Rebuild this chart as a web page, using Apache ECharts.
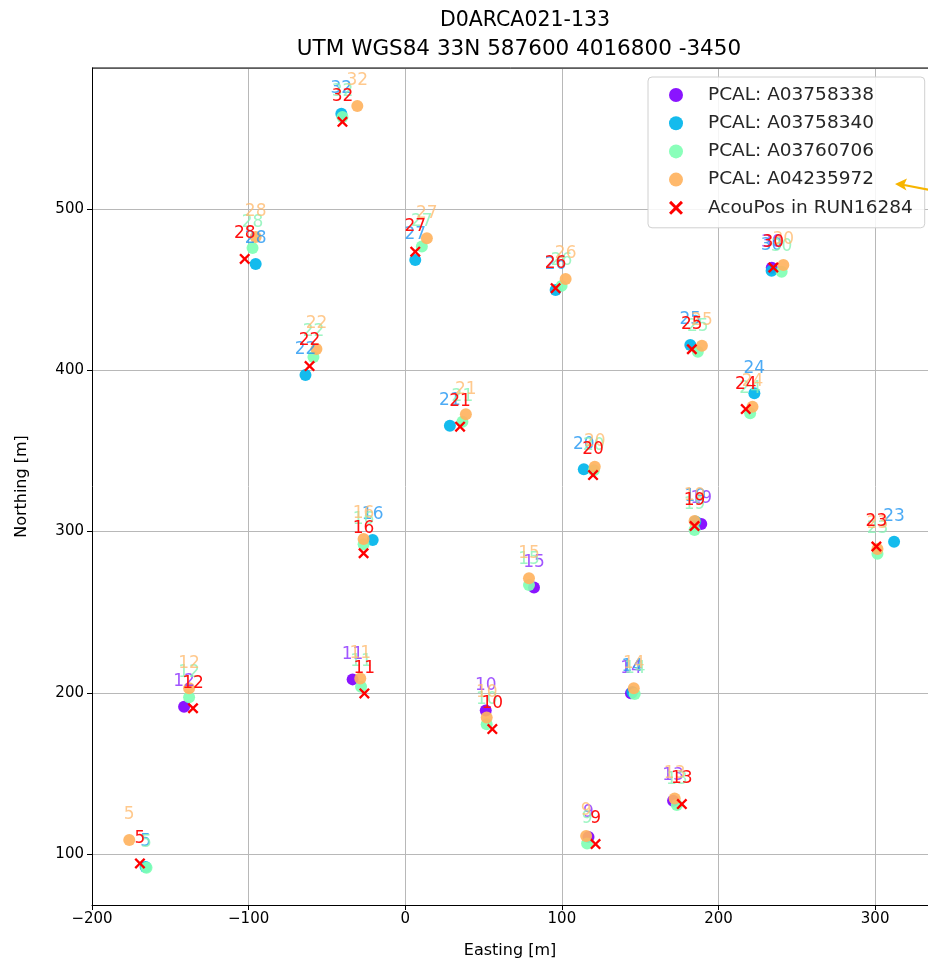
<!DOCTYPE html>
<html>
<head>
<meta charset="utf-8">
<script src="https://cdn.jsdelivr.net/npm/echarts@6/dist/echarts.min.js"></script>
<style>
html,body{margin:0;padding:0;background:#fff;}
#chart{width:928px;height:965px;}
</style>
</head>
<body>
<div id="chart"></div>
<script>
// ---- data: [easting, northing, DU label] ----
const pcalA03758338 = [
  [234.0, 463.5, '30'], [189.0, 304.7, '19'], [82.2, 265.2, '15'], [144.1, 199.7, '14'],
  [-141.2, 191.4, '12'], [-33.6, 208.3, '11'], [51.4, 189.0, '10'], [117.0, 110.5, '9'],
  [171.0, 133.0, '13']
];
const pcalA03758340 = [
  [-40.8, 559.0, '32'], [-95.5, 465.9, '28'], [6.4, 468.4, '27'], [96.0, 449.8, '26'],
  [233.9, 461.7, '30'], [-63.7, 397.1, '22'], [182.0, 415.7, '25'], [222.9, 385.7, '24'],
  [28.5, 365.6, '21'], [114.0, 338.6, '20'], [185.2, 306.2, '19'], [-20.8, 294.7, '16'],
  [312.1, 293.7, '23'], [145.0, 200.5, '14'], [-165.8, 92.0, '5']
];
const pcalA03760706 = [
  [-40.1, 557.0, '32'], [-97.5, 475.8, '28'], [10.6, 476.7, '27'], [99.8, 452.3, '26'],
  [240.3, 461.1, '30'], [-58.6, 408.2, '22'], [186.8, 411.5, '25'], [220.2, 373.3, '24'],
  [36.5, 368.1, '21'], [120.4, 338.0, '20'], [184.7, 300.9, '19'], [-26.6, 292.1, '16'],
  [301.5, 286.2, '23'], [79.0, 266.8, '15'], [146.5, 199.3, '14'], [-138.0, 197.2, '12'],
  [-28.2, 203.7, '11'], [52.0, 180.5, '10'], [116.1, 106.6, '9'], [173.4, 130.4, '13'],
  [-165.2, 91.5, '5']
];
const pcalA04235972 = [
  [-30.6, 563.9, '32'], [-95.5, 482.6, '28'], [13.8, 481.8, '27'], [102.4, 456.6, '26'],
  [241.4, 465.3, '30'], [-56.7, 413.2, '22'], [189.4, 415.2, '25'], [221.7, 377.4, '24'],
  [38.7, 372.7, '21'], [121.0, 340.2, '20'], [184.7, 306.5, '19'], [-26.6, 295.3, '16'],
  [301.5, 289.1, '23'], [79.0, 271.0, '15'], [145.9, 202.8, '14'], [-138.0, 202.8, '12'],
  [-28.7, 208.9, '11'], [52.0, 184.6, '10'], [115.5, 111.2, '9'], [172.0, 134.5, '13'],
  [-176.2, 108.7, '5']
];
const acouPosRUN16284 = [
  [-40.1, 554.0, '32'], [-102.5, 469.0, '28'], [6.4, 473.5, '27'], [96.0, 450.9, '26'],
  [235.0, 463.7, '30'], [-61.1, 402.6, '22'], [183.0, 413.0, '25'], [217.4, 375.9, '24'],
  [35.0, 365.0, '21'], [119.9, 335.0, '20'], [184.7, 303.4, '19'], [-26.6, 286.5, '16'],
  [300.8, 290.7, '23'], [-135.5, 190.4, '12'], [-26.1, 199.6, '11'], [55.6, 177.5, '10'],
  [121.5, 106.2, '9'], [176.6, 131.0, '13'], [-169.4, 94.2, '5']
];
const seriesNames = ['PCAL: A03758338', 'PCAL: A03758340', 'PCAL: A03760706', 'PCAL: A04235972', 'AcouPos in RUN16284'];
const titleLines = ['D0ARCA021-133', 'UTM WGS84 33N 587600 4016800 -3450'];
const xTicks = [-200, -100, 0, 100, 200, 300];
const yTicks = [100, 200, 300, 400, 500];

const FONT = 'DejaVu Sans';
const XMARK = 'path://M1.5,0 L5,3.5 L8.5,0 L10,1.5 L6.5,5 L10,8.5 L8.5,10 L5,6.5 L1.5,10 L0,8.5 L3.5,5 L0,1.5 Z';
const pointColors = ['#8000ff', '#00b5eb', '#80ffb4', '#ffb360', '#ff0000'];
const labelColors = ['#8a2cff', '#2196f3', '#86f2b4', '#ffbb70', '#ff1010'];

const datasets = [pcalA03758338, pcalA03758340, pcalA03760706, pcalA04235972, acouPosRUN16284];

function fmt(v) {
  if (xTicks.indexOf(v) < 0 && yTicks.indexOf(v) < 0) return '';
  return String(v).replace('-', '\u2212');
}

const series = datasets.map((d, i) => ({
  type: 'scatter',
  name: seriesNames[i],
  data: d.map(p => ({ value: [p[0], p[1]], name: p[2] })),
  symbol: i === 4 ? XMARK : 'circle',
  symbolSize: i === 4 ? 11 : 12,
  itemStyle: { color: pointColors[i], opacity: i === 4 ? 1 : 0.92 },
  label: {
    show: true,
    position: 'inside',
    offset: [0, -25],
    formatter: '{b}',
    fontFamily: FONT,
    fontSize: 17,
    color: labelColors[i],
    opacity: i === 4 ? 1 : 0.8
  },
  emphasis: { disabled: true },
  animation: false
}));

const chart = echarts.init(document.getElementById('chart'), null, { renderer: 'canvas' });
chart.setOption({
  backgroundColor: '#ffffff',
  animation: false,
  title: [
    { text: titleLines[0], left: 520, top: 5, textAlign: 'center',
      textStyle: { fontFamily: FONT, fontSize: 20.5, fontWeight: 'normal', color: '#000' } },
    { text: titleLines[1], left: 514, top: 33, textAlign: 'center',
      textStyle: { fontFamily: FONT, fontSize: 21.5, fontWeight: 'normal', color: '#000' } }
  ],
  grid: { left: 92, top: 68, width: 838, height: 837, show: false },
  xAxis: {
    type: 'value',
    min: -200,
    max: -200 + 838 / 1.57,
    interval: 100,
    name: 'Easting [m]',
    nameLocation: 'middle',
    nameGap: 38,
    nameTextStyle: { fontFamily: FONT, fontSize: 16, color: '#000' },
    axisLine: { show: true, onZero: false, lineStyle: { color: '#000', width: 1 } },
    axisTick: { show: true, length: 5, lineStyle: { color: '#000' } },
    axisLabel: { fontFamily: FONT, fontSize: 15, color: '#000', margin: 7, formatter: fmt, showMaxLabel: false },
    splitLine: { show: true, lineStyle: { color: '#b8b8b8', width: 1 } }
  },
  yAxis: [{
    type: 'value',
    min: 68.4,
    max: 587.4,
    splitNumber: 5,
    name: 'Northing [m]',
    nameLocation: 'middle',
    nameGap: 62,
    nameRotate: 90,
    nameTextStyle: { fontFamily: FONT, fontSize: 16, color: '#000' },
    axisLine: { show: true, onZero: false, lineStyle: { color: '#000', width: 1 } },
    axisTick: { show: true, length: 5, lineStyle: { color: '#000' } },
    axisLabel: { fontFamily: FONT, fontSize: 15, color: '#000', margin: 8, formatter: fmt, showMinLabel: false, showMaxLabel: false },
    splitLine: { show: true, lineStyle: { color: '#b8b8b8', width: 1 } }
  }],
  legend: {
    orient: 'vertical',
    left: 648,
    top: 77,
    padding: [8, 12, 10, 21],
    itemWidth: 14,
    itemHeight: 14,
    itemGap: 8.2,
    backgroundColor: 'rgba(255,255,255,0.85)',
    borderColor: '#d0d0d0',
    borderWidth: 1,
    borderRadius: 4,
    textStyle: { fontFamily: FONT, fontSize: 18.5, color: '#262626', lineHeight: 20, padding: [0, 0, 0, 20] },
    data: seriesNames.map((n, i) => ({ name: n, icon: i === 4 ? XMARK : 'circle' })),
    selectedMode: false
  },
  graphic: [
    { type: 'line', shape: { x1: 904, y1: 185, x2: 930, y2: 190 }, style: { stroke: '#f7b500', lineWidth: 2 }, z: 100 },
    { type: 'polygon', shape: { points: [[895, 184], [907, 178.5], [904, 185], [906.5, 190.5]] }, style: { fill: '#f7b500' }, z: 100 },
    { type: 'line', shape: { x1: 92, y1: 68, x2: 930, y2: 68 }, style: { stroke: '#000', lineWidth: 1 }, z: 50 }
  ],
  series: series
});
</script>
</body>
</html>
